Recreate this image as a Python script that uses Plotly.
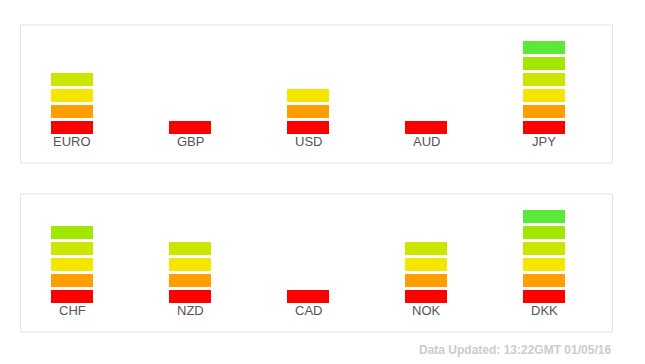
import plotly.graph_objects as go

# Data
top_currencies = ["EURO", "GBP", "USD", "AUD", "JPY"]
top_levels = [4, 1, 3, 1, 6]
bottom_currencies = ["CHF", "NZD", "CAD", "NOK", "DKK"]
bottom_levels = [5, 4, 1, 4, 6]
level_colors = ["#ff0000", "#ff9e00", "#f5e600", "#cde600", "#a0e800", "#5ae83b"]
footer_text = "Data Updated: 13:22GMT 01/05/16"

W, H = 645, 364
O = 8  # page body offset
SEG = 13 / 16  # segment height relative to pitch

def px(v):
    return (v - O) / W

def py(v):
    return 1 - (v - O) / H

fig = go.Figure()

def add_panel(currencies, levels, xa, ya):
    positions = list(range(len(currencies)))
    for k, col in enumerate(level_colors):
        xs = [p for p, lv in zip(positions, levels) if lv > k]
        if not xs:
            continue
        fig.add_trace(go.Bar(
            x=xs, y=[SEG] * len(xs), base=[k] * len(xs),
            width=0.356, marker=dict(color=col, line=dict(width=0)),
            xaxis=xa, yaxis=ya, showlegend=False, hoverinfo="skip"))
    for p, name in zip(positions, currencies):
        fig.add_annotation(x=p, y=-0.44, text=name, showarrow=False,
                           xref=xa, yref=ya, xanchor="center", yanchor="middle",
                           font=dict(family="Liberation Sans, Arial", size=13, color="#555555"))

add_panel(top_currencies, top_levels, "x", "y")
add_panel(bottom_currencies, bottom_levels, "x2", "y2")

px_per_unit = 118
span = (613 - 20) / px_per_unit
a = -(72 - 20) / px_per_unit
xrange = [a, a + span]
yrange = [-1.8125, 6.8125]

axis_common = dict(showgrid=False, zeroline=False, showticklabels=False, showline=False, fixedrange=True)

fig.update_layout(
    width=W, height=H,
    margin=dict(l=0, r=0, t=0, b=0),
    paper_bgcolor="white", plot_bgcolor="white",
    barmode="overlay",
    xaxis=dict(domain=[px(20), px(613)], range=xrange, anchor="y", **axis_common),
    yaxis=dict(domain=[py(163), py(25)], range=yrange, anchor="x", **axis_common),
    xaxis2=dict(domain=[px(20), px(613)], range=xrange, anchor="y2", **axis_common),
    yaxis2=dict(domain=[py(332), py(194)], range=yrange, anchor="x2", **axis_common),
)

# Panel borders
for (y0, y1) in [(25, 163), (194, 332)]:
    fig.add_shape(type="rect", xref="paper", yref="paper",
                  x0=px(20.5), x1=px(612.5), y0=py(y1), y1=py(y0),
                  line=dict(color="#e3e3e3", width=1), fillcolor="rgba(0,0,0,0)", layer="below")

fig.add_annotation(x=px(613), y=py(350), xref="paper", yref="paper",
                   text="<b>" + footer_text + "</b>", showarrow=False,
                   xanchor="right", yanchor="middle",
                   font=dict(family="Liberation Sans, Arial", size=12, color="#cccccc"))

fig.write_html("out.html")
